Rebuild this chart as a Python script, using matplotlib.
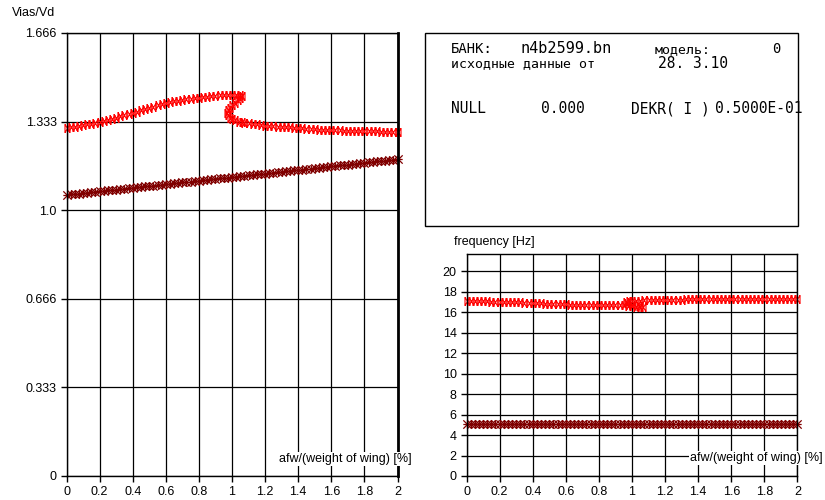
import numpy as np
import matplotlib
matplotlib.use("Agg")
import matplotlib.pyplot as plt
from matplotlib.path import Path
from matplotlib.patches import Rectangle

plt.rcParams["font.family"] = ["Liberation Sans", "DejaVu Sans"]

# ---- data ----
afw = np.round(np.arange(0, 2.0001, 0.025), 3)  # regular sampling grid of afw [%]

# upper Vias/Vd branch (with the fold near afw = 1)
vias_hi_x = [0, .025, .05, .075, .1, .125, .15, .175, .2, .225, .25, .275, .3, .325, .35, .375,
             .4, .425, .45, .475, .5, .525, .55, .575, .6, .625, .65, .675, .7, .725, .75, .775,
             .8, .825, .85, .875, .9, .925, .95, .975, 1.0, 1.025, 1.05,
             1.06, 1.05, 1.035, 1.02, 1.0, .985, .975, .97, .975, .985, 1.0, 1.02, 1.04, 1.06,
             1.075, 1.1, 1.125, 1.15, 1.175, 1.2, 1.225, 1.25, 1.275, 1.3, 1.325, 1.35, 1.375,
             1.4, 1.425, 1.45, 1.475, 1.5, 1.525, 1.55, 1.575, 1.6, 1.625, 1.65, 1.675, 1.7,
             1.725, 1.75, 1.775, 1.8, 1.825, 1.85, 1.875, 1.9, 1.925, 1.95, 1.975, 2.0]
vias_hi = [1.309, 1.311, 1.314, 1.316, 1.319, 1.322, 1.325, 1.328, 1.331, 1.335, 1.339, 1.343,
           1.347, 1.352, 1.356, 1.361, 1.365, 1.370, 1.375, 1.380, 1.384, 1.389, 1.394, 1.398,
           1.403, 1.406, 1.409, 1.412, 1.414, 1.416, 1.419, 1.421, 1.423, 1.425, 1.427, 1.429,
           1.430, 1.431, 1.432, 1.433, 1.433, 1.433, 1.433,
           1.430, 1.422, 1.413, 1.404, 1.395, 1.385, 1.375, 1.365, 1.356, 1.348, 1.342, 1.337,
           1.333, 1.330,
           1.328, 1.326, 1.324, 1.322, 1.320, 1.318, 1.317, 1.316, 1.314, 1.313, 1.312, 1.311,
           1.309, 1.308, 1.307, 1.306, 1.305, 1.304, 1.303, 1.302, 1.302, 1.301, 1.300, 1.300,
           1.299, 1.299, 1.298, 1.298, 1.297, 1.297, 1.296, 1.296, 1.296, 1.295, 1.295, 1.295,
           1.294, 1.294]

# lower Vias/Vd branch on the afw grid
vias_lo = [1.057, 1.059, 1.060, 1.062, 1.064, 1.065, 1.067, 1.069, 1.070, 1.072, 1.074, 1.075,
           1.077, 1.079, 1.080, 1.082, 1.084, 1.085, 1.087, 1.089, 1.091, 1.092, 1.094, 1.096,
           1.097, 1.099, 1.101, 1.102, 1.104, 1.106, 1.107, 1.109, 1.111, 1.112, 1.114, 1.116,
           1.117, 1.119, 1.121, 1.122, 1.124, 1.126, 1.127, 1.129, 1.131, 1.132, 1.134, 1.136,
           1.137, 1.139, 1.141, 1.142, 1.144, 1.146, 1.147, 1.149, 1.151, 1.152, 1.154, 1.156,
           1.158, 1.159, 1.161, 1.163, 1.164, 1.166, 1.168, 1.169, 1.171, 1.173, 1.174, 1.176,
           1.178, 1.179, 1.181, 1.183, 1.184, 1.186, 1.188, 1.189, 1.191]

# upper frequency branch [Hz] (with the fold near afw = 1)
freq_hi_x = [0, .025, .05, .075, .1, .125, .15, .175, .2, .225, .25, .275, .3, .325, .35, .375,
             .4, .425, .45, .475, .5, .525, .55, .575, .6, .625, .65, .675, .7, .725, .75, .775,
             .8, .825, .85, .875, .9, .925, .95, .975, 1.0, 1.025, 1.05, 1.065,
             1.04, 1.0, .97, .965, .98, 1.0, 1.025,
             1.05, 1.075, 1.1, 1.125, 1.15, 1.175, 1.2, 1.225, 1.25, 1.275, 1.3, 1.325, 1.35,
             1.375, 1.4, 1.425, 1.45, 1.475, 1.5, 1.525, 1.55, 1.575, 1.6, 1.625, 1.65, 1.675,
             1.7, 1.725, 1.75, 1.775, 1.8, 1.825, 1.85, 1.875, 1.9, 1.925, 1.95, 1.975, 2.0]
freq_hi = [17.10, 17.10, 17.09, 17.08, 17.07, 17.06, 17.05, 17.04, 17.03, 17.01, 17.00, 16.99,
           16.97, 16.96, 16.94, 16.92, 16.91, 16.89, 16.87, 16.85, 16.83, 16.81, 16.80, 16.78,
           16.77, 16.75, 16.74, 16.73, 16.72, 16.71, 16.70, 16.69, 16.69, 16.68, 16.68, 16.68,
           16.68, 16.68, 16.68, 16.66, 16.60, 16.55, 16.50, 16.48,
           16.60, 16.75, 16.90, 17.00, 17.08, 17.12, 17.14,
           17.15, 17.17, 17.18, 17.19, 17.20, 17.21, 17.22, 17.23, 17.24, 17.25, 17.25, 17.26,
           17.27, 17.27, 17.28, 17.29, 17.29, 17.30, 17.30, 17.31, 17.31, 17.32, 17.32, 17.33,
           17.33, 17.33, 17.33, 17.33, 17.33, 17.33, 17.33, 17.32, 17.32, 17.32, 17.32, 17.31,
           17.31, 17.31, 17.30]

# lower frequency branch [Hz] on the afw grid
freq_lo = [5.12, 5.12, 5.11, 5.12, 5.11, 5.11, 5.12, 5.11, 5.11, 5.11, 5.10, 5.11, 5.11, 5.10,
           5.11, 5.10, 5.10, 5.11, 5.10, 5.10, 5.10, 5.10, 5.10, 5.10, 5.09, 5.10, 5.10, 5.09,
           5.10, 5.09, 5.09, 5.10, 5.09, 5.09, 5.09, 5.09, 5.09, 5.09, 5.09, 5.08, 5.09, 5.09,
           5.09, 5.08, 5.09, 5.08, 5.08, 5.09, 5.08, 5.08, 5.08, 5.08, 5.08, 5.08, 5.08, 5.08,
           5.08, 5.08, 5.07, 5.08, 5.08, 5.07, 5.08, 5.07, 5.07, 5.08, 5.07, 5.07, 5.07, 5.07,
           5.07, 5.07, 5.07, 5.07, 5.07, 5.07, 5.06, 5.07, 5.07, 5.06, 5.07]

x_ticks = [0, 0.2, 0.4, 0.6, 0.8, 1, 1.2, 1.4, 1.6, 1.8, 2]
x_labels = ["0", "0.2", "0.4", "0.6", "0.8", "1", "1.2", "1.4", "1.6", "1.8", "2"]
vias_ticks = [0, 0.333, 0.666, 1.0, 1.333, 1.666]
vias_labels = ["0", "0.333", "0.666", "1.0", "1.333", "1.666"]
freq_ticks = [0, 2, 4, 6, 8, 10, 12, 14, 16, 18, 20]

RED, DARK = "#ff0000", "#800000"
M, L = Path.MOVETO, Path.LINETO
# tall "|x|" marker for the red series, asterisk-like marker for the dark series
bow = Path([(-.6, -1), (.6, 1), (-.6, 1), (.6, -1), (-.6, -1), (-.6, 1), (.6, -1), (.6, 1)],
           [M, L, M, L, M, L, M, L])
star = Path([(-1, -1), (1, 1), (-1, 1), (1, -1), (-1, 0), (1, 0), (0, -1), (0, 1)],
            [M, L, M, L, M, L, M, L])

W, H = 825, 500
fig = plt.figure(figsize=(8.25, 5), dpi=100)


def px_axes(x0, y0, x1, y1):
    return fig.add_axes([x0 / W, 1 - y1 / H, (x1 - x0) / W, (y1 - y0) / H])


def style(ax, yticks, ylabels, ylim):
    ax.set_xlim(0, 2); ax.set_ylim(*ylim)
    ax.set_xticks(x_ticks); ax.set_xticklabels(x_labels)
    ax.set_yticks(yticks); ax.set_yticklabels(ylabels)
    ax.grid(True, color="black", lw=0.9)
    ax.set_axisbelow(True)
    for s in ax.spines.values():
        s.set_color("black"); s.set_linewidth(1.0)
    ax.spines["right"].set_linewidth(2.0)
    ax.tick_params(length=4, width=1, pad=3, labelsize=9, colors="black")


ax1 = px_axes(66.5, 33, 397.5, 476)
style(ax1, vias_ticks, vias_labels, (0, 1.666))
ax1.plot(afw, vias_lo, ls="none", marker=star, ms=6, mfc="none", mec=DARK, mew=0.9, clip_on=False)
ax1.plot(vias_hi_x, vias_hi, ls="none", marker=bow, ms=6, mfc="none", mec=RED, mew=0.8, clip_on=False)

ax2 = px_axes(466.5, 254, 797.5, 476)
style(ax2, freq_ticks, [str(t) for t in freq_ticks], (0, 21.7))
ax2.spines["right"].set_linewidth(1.0)
ax2.plot(afw, freq_lo, ls="none", marker=star, ms=6, mfc="none", mec=DARK, mew=0.9, clip_on=False)
ax2.plot(freq_hi_x, freq_hi, ls="none", marker=bow, ms=6, mfc="none", mec=RED, mew=0.8, clip_on=False)

# axis titles
fig.text(12 / W, 1 - 13 / H, "Vias/Vd", fontsize=9, va="center", ha="left")
fig.text(454 / W, 1 - 242 / H, "frequency [Hz]", fontsize=9, va="center", ha="left")
xl = "afw/(weight of wing) [%]"
box = dict(facecolor="white", edgecolor="none", pad=1)
fig.text(412 / W, 1 - 459 / H, xl, fontsize=9, va="center", ha="right", bbox=box)
fig.text(823 / W, 1 - 458 / H, xl, fontsize=9, va="center", ha="right", bbox=box)

# info panel
fig.patches.append(Rectangle((425 / W, 1 - 226 / H), (797.5 - 425) / W, (226 - 33) / H,
                             transform=fig.transFigure, fill=False, ec="black", lw=1.0))
mono = ["DejaVu Sans Mono"]
def info(x, y, s, size=10):
    fig.text(x / W, 1 - y / H, s, fontsize=size, family=mono, va="baseline", ha="left")

info(451, 53, "БАНК:")
info(520, 53, "n4b2599.bn", 11)
info(655, 53, "модель:", 9.5)
info(772, 53, "0")
info(451, 67, "исходные данные от", 9.5)
info(658, 68, "28. 3.10", 10.5)
info(451, 113, "NULL", 10.5)
info(541, 113, "0.000", 10.5)
info(631, 113, "DEKR( I )", 10.5)
info(715, 113, "0.5000E-01", 10.5)

fig.savefig("out.png", dpi=100, facecolor="white")
